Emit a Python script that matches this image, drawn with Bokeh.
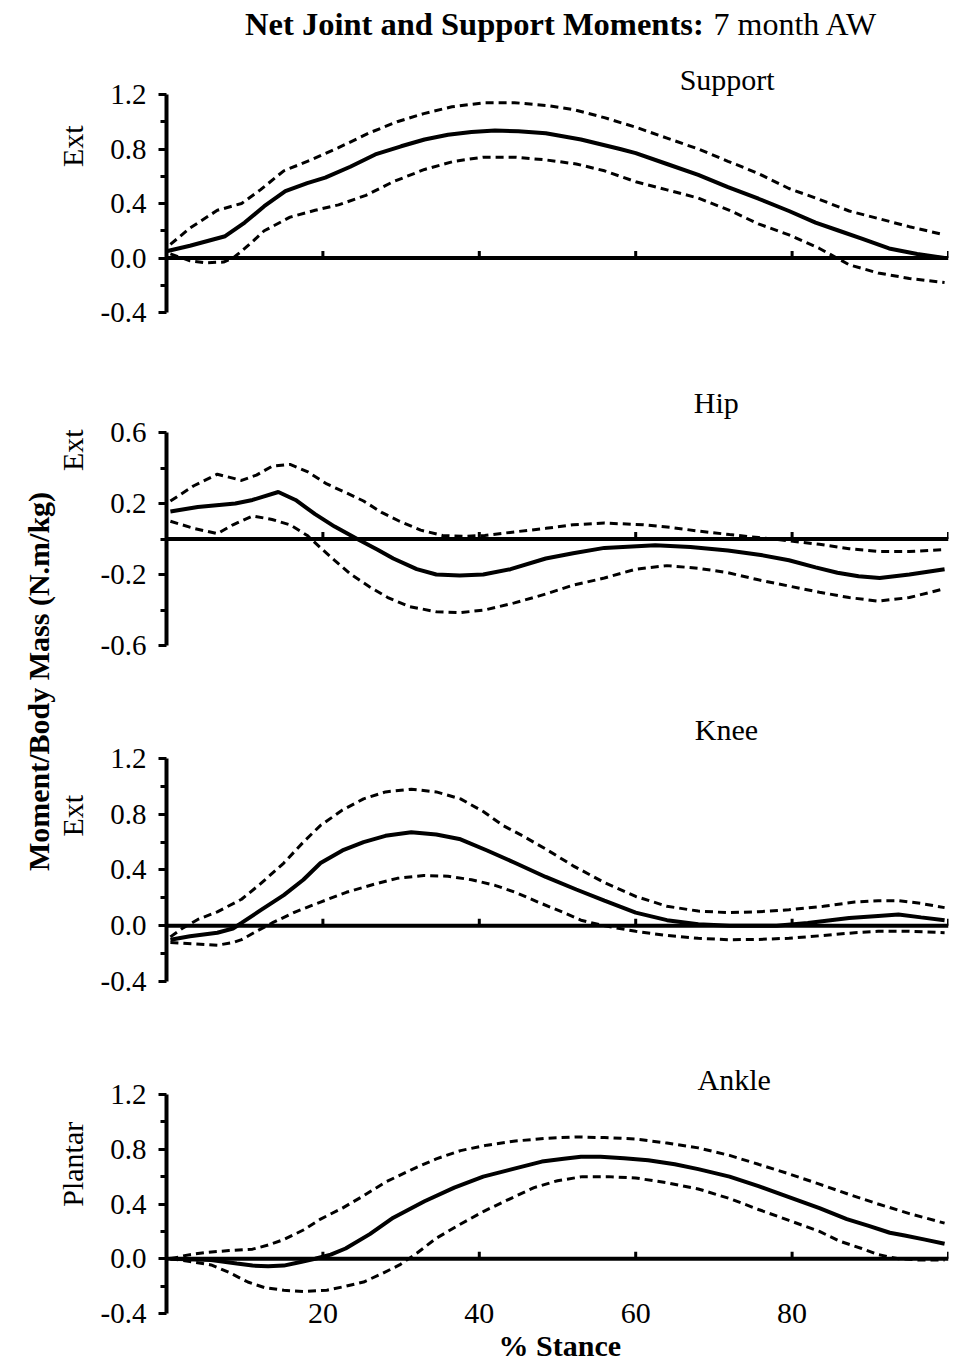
import math
from bokeh.plotting import figure
from bokeh.models import Range1d, FixedTicker, PrintfTickFormatter, Label, Span, ColumnDataSource
from bokeh.layouts import row, column
from bokeh.core.properties import value
from bokeh.embed import file_html
from bokeh.resources import INLINE

FONT = "Liberation Serif"

# ---------------- data ----------------
x_ticks = [20, 40, 60, 80]
x_tick_marks = [20, 40, 60, 80, 100]

support_mean_x = [0, 3, 7.5, 10, 12.5, 15.2, 18, 20.3, 23.5, 26.7, 30, 33, 36, 39, 42, 45, 48.5, 53, 58, 60, 64, 68, 71.8, 75.7, 79.6, 83, 86, 89, 92.4, 96, 99.5]
support_mean_y = [0.05, 0.09, 0.16, 0.26, 0.38, 0.49, 0.55, 0.59, 0.67, 0.76, 0.82, 0.87, 0.905, 0.925, 0.935, 0.93, 0.915, 0.87, 0.8, 0.77, 0.69, 0.61, 0.52, 0.435, 0.345, 0.26, 0.2, 0.14, 0.07, 0.03, 0.0]
support_upper_x = [0.5, 3, 6.5, 9.6, 12, 15, 18.5, 22, 26, 29.5, 32.9, 36.5, 40.7, 44.5, 48.5, 52, 56, 60, 64, 68, 71.8, 75.7, 79.6, 83.5, 87.3, 91, 95, 99.5]
support_upper_y = [0.1, 0.22, 0.35, 0.40, 0.5, 0.64, 0.72, 0.81, 0.92, 1.0, 1.06, 1.11, 1.14, 1.14, 1.12, 1.09, 1.03, 0.96, 0.88, 0.8, 0.71, 0.62, 0.51, 0.43, 0.345, 0.29, 0.23, 0.17]
support_lower_x = [0.5, 3, 5, 7.3, 8.5, 9.6, 11, 12.5, 15.8, 19, 22, 25.5, 29, 33, 36.8, 40.5, 44.6, 48.5, 52.4, 56, 60, 64, 68, 72, 75.7, 79.6, 83.5, 87.3, 91, 95, 99.5]
support_lower_y = [0.03, -0.02, -0.035, -0.03, 0.0, 0.05, 0.12, 0.2, 0.3, 0.35, 0.39, 0.46, 0.56, 0.65, 0.71, 0.74, 0.74, 0.72, 0.69, 0.64, 0.56, 0.5, 0.44, 0.35, 0.25, 0.17, 0.07, -0.05, -0.11, -0.15, -0.18]

hip_mean_x = [0.5, 4, 8.8, 11, 14.3, 16.5, 19, 21.5, 24.4, 27, 29, 32, 34.5, 37.5, 40.5, 44, 48.5, 52, 56, 62.5, 67, 71.8, 76, 79.6, 83, 85.8, 88.5, 91.2, 95, 99.5]
hip_mean_y = [0.155, 0.18, 0.2, 0.22, 0.265, 0.22, 0.14, 0.07, 0.0, -0.06, -0.11, -0.17, -0.2, -0.205, -0.2, -0.17, -0.11, -0.08, -0.05, -0.035, -0.045, -0.065, -0.09, -0.12, -0.16, -0.19, -0.21, -0.22, -0.2, -0.17]
hip_upper_x = [0.5, 3.5, 6.5, 9.6, 11.5, 13.5, 15.8, 18, 20.5, 23, 25.2, 27.5, 29.8, 32.5, 35.3, 38, 40.7, 44.5, 48.5, 52, 56, 61, 64.5, 68, 72, 75.7, 79.6, 83.5, 87.3, 91, 95, 99.5]
hip_upper_y = [0.214, 0.3, 0.365, 0.33, 0.36, 0.41, 0.42, 0.38, 0.31, 0.26, 0.214, 0.15, 0.1, 0.05, 0.02, 0.015, 0.02, 0.04, 0.06, 0.08, 0.09, 0.08, 0.065, 0.045, 0.025, 0.008, -0.01, -0.03, -0.055, -0.07, -0.07, -0.06]
hip_lower_x = [0.5, 3.5, 6.5, 8.5, 11, 13.5, 15.8, 18, 19.7, 21.5, 23.6, 26, 28.3, 31, 34.5, 37.5, 40.7, 44.5, 48.5, 52, 56, 60, 64, 68, 71.8, 75.7, 79.6, 83.5, 87.3, 91, 95, 99.5]
hip_lower_y = [0.1, 0.06, 0.03, 0.08, 0.13, 0.11, 0.08, 0.02, -0.05, -0.12, -0.2, -0.27, -0.33, -0.38, -0.41, -0.415, -0.4, -0.36, -0.31, -0.26, -0.22, -0.17, -0.15, -0.165, -0.19, -0.23, -0.265, -0.3, -0.33, -0.35, -0.33, -0.28]

knee_mean_x = [0.5, 3, 6.5, 8.5, 9.6, 12, 15, 17.5, 19.7, 22.5, 25.2, 28, 31.3, 34.5, 37.6, 41, 44.6, 48.5, 52.4, 56, 60, 64, 68, 72, 78, 82, 87.3, 91, 93.6, 96.5, 99.5]
knee_mean_y = [-0.1, -0.075, -0.05, -0.02, 0.02, 0.11, 0.22, 0.33, 0.45, 0.54, 0.6, 0.645, 0.67, 0.655, 0.62, 0.54, 0.45, 0.35, 0.26, 0.18, 0.094, 0.04, 0.01, 0.0, 0.0, 0.02, 0.055, 0.07, 0.08, 0.06, 0.04]
knee_upper_x = [0.5, 2, 4, 6.5, 9.6, 12, 15, 17.5, 19.7, 22.5, 25.2, 28, 31.3, 34.5, 37.6, 40.5, 43, 45.7, 48.5, 52, 56, 60, 64, 68, 71.8, 75.7, 79.6, 84, 88, 91, 93.6, 96.5, 99.5]
knee_upper_y = [-0.08, -0.02, 0.045, 0.1, 0.19, 0.3, 0.45, 0.6, 0.72, 0.83, 0.91, 0.96, 0.98, 0.96, 0.91, 0.82, 0.72, 0.64, 0.55, 0.43, 0.31, 0.21, 0.14, 0.105, 0.094, 0.1, 0.115, 0.14, 0.17, 0.18, 0.18, 0.16, 0.13]
knee_lower_x = [0.5, 3.5, 6.5, 8.5, 9.6, 11.5, 13.5, 16.5, 19.7, 23, 26.7, 29.5, 32.9, 36, 39, 42, 44.6, 47.5, 50.8, 53, 56, 60, 64, 68, 71.8, 75.7, 79.6, 84, 88, 91, 95, 99.5]
knee_lower_y = [-0.12, -0.13, -0.14, -0.12, -0.1, -0.04, 0.02, 0.1, 0.17, 0.24, 0.3, 0.34, 0.36, 0.355, 0.33, 0.29, 0.24, 0.17, 0.094, 0.04, 0.0, -0.04, -0.07, -0.09, -0.1, -0.098, -0.09, -0.07, -0.05, -0.04, -0.04, -0.05]

ankle_mean_x = [0.5, 5.7, 9, 11, 13, 15, 17, 19, 21, 22.9, 26, 29, 33, 36.8, 40.5, 44.6, 48, 50.8, 53, 55.5, 58.5, 61.6, 65, 68, 72, 75.7, 79.6, 83.5, 87, 89.8, 92.5, 94.4, 97, 99.5]
ankle_mean_y = [0.0, -0.01, -0.035, -0.05, -0.055, -0.05, -0.025, 0.0, 0.03, 0.075, 0.18, 0.3, 0.42, 0.52, 0.6, 0.66, 0.71, 0.73, 0.745, 0.745, 0.735, 0.72, 0.69, 0.655, 0.6, 0.53, 0.45, 0.37, 0.29, 0.24, 0.19, 0.17, 0.14, 0.11]
ankle_upper_x = [0.5, 3, 5, 8, 11, 13, 15, 17.5, 19.7, 22.5, 25.2, 28, 31.3, 34.5, 37.6, 41, 44.6, 48.5, 52.4, 56, 60, 64, 68, 72, 75.7, 79.6, 83.5, 87.3, 91, 95, 99.5]
ankle_upper_y = [0.0, 0.03, 0.045, 0.06, 0.07, 0.1, 0.14, 0.21, 0.29, 0.37, 0.46, 0.56, 0.65, 0.73, 0.79, 0.83, 0.86, 0.88, 0.89, 0.885, 0.875, 0.845, 0.81, 0.755, 0.69, 0.62, 0.545, 0.47, 0.4, 0.33, 0.26]
ankle_lower_x = [0.5, 3, 5.7, 8, 10.4, 12.5, 15, 17.5, 20.5, 23, 25.2, 27.5, 29.8, 32, 34.5, 37.5, 40.7, 44, 47, 50, 53.2, 56.5, 60, 64, 68, 72, 75.7, 79.6, 83.5, 86, 88.9, 91, 93.6, 96.5, 99.5]
ankle_lower_y = [0.0, -0.02, -0.045, -0.1, -0.17, -0.21, -0.23, -0.24, -0.23, -0.2, -0.17, -0.11, -0.045, 0.04, 0.15, 0.25, 0.35, 0.44, 0.52, 0.57, 0.6, 0.6, 0.59, 0.555, 0.51, 0.44, 0.36, 0.28, 0.2, 0.13, 0.075, 0.03, 0.0, -0.01, -0.01]

panel_names = ["Support", "Hip", "Knee", "Ankle"]
side_labels = ["Ext", "Ext", "Ext", "Plantar"]
title_bold = "Net Joint and Support Moments:"
title_normal = "7 month AW"
y_label = "Moment/Body Mass (N.m/kg)"
x_label = "% Stance"

# ---------------- layout ----------------
MAIN_W = 857
SIDE_W = 40
GLOBAL_W = 56
TICK_PX = 7


def make_panel(height, top, bottom, yr, bounds, majors, minors):
    p = figure(width=MAIN_W, height=height, x_range=Range1d(0, 100), y_range=Range1d(*yr),
               output_backend="svg", toolbar_location=None, x_axis_location=None,
               min_border_left=70, min_border_right=5, min_border_top=top, min_border_bottom=bottom)
    p.outline_line_color = None
    p.xgrid.visible = False
    p.ygrid.visible = False
    p.background_fill_color = "white"
    p.border_fill_color = "white"
    ax = p.yaxis[0]
    ax.bounds = bounds
    ax.ticker = FixedTicker(ticks=majors, minor_ticks=minors)
    ax.formatter = PrintfTickFormatter(format="%.1f")
    ax.axis_line_width = 4
    ax.axis_line_color = "black"
    ax.major_tick_line_width = 3
    ax.minor_tick_line_width = 3
    ax.major_tick_out = 8
    ax.major_tick_in = 0
    ax.minor_tick_out = 6
    ax.minor_tick_in = 0
    ax.major_label_standoff = 12
    ax.major_label_text_font = FONT
    ax.major_label_text_font_size = "29px"
    ax.major_label_text_color = "black"
    # zero line with upward x ticks
    p.add_layout(Span(location=0, dimension="width", line_color="black", line_width=4))
    frame_h = height - top - bottom
    tick_len = TICK_PX * (yr[1] - yr[0]) / frame_h
    p.segment(x0=x_tick_marks, y0=[0] * len(x_tick_marks), x1=x_tick_marks,
              y1=[tick_len] * len(x_tick_marks), line_color="black", line_width=3)
    # strip on the left for the side label, sharing the y range
    s = figure(width=SIDE_W, height=height, x_range=Range1d(0, 1), y_range=p.y_range,
               output_backend="svg", toolbar_location=None, x_axis_location=None,
               y_axis_location=None, min_border_left=0, min_border_right=0,
               min_border_top=top, min_border_bottom=bottom)
    s.outline_line_color = None
    s.xgrid.visible = False
    s.ygrid.visible = False
    return p, s


def add_curves(p, mx, my, ux, uy, lx, ly):
    p.line(ux, uy, line_color="black", line_width=3, line_dash="8 5")
    p.line(lx, ly, line_color="black", line_width=3, line_dash="8 5")
    p.line(mx, my, line_color="black", line_width=4)


def add_labels(p, s, name, name_x, name_y, side, side_y):
    p.add_layout(Label(x=name_x, y=name_y, text=name, text_font=FONT, text_font_size="30px",
                       text_align="center", text_baseline="middle", text_color="black"))
    s.add_layout(Label(x=0.4, y=side_y, text=side, angle=math.pi / 2,
                       text_font=FONT, text_font_size="30px", text_align="center",
                       text_baseline="middle", text_color="black"))


STD_MAJ = [-0.4, 0.0, 0.4, 0.8, 1.2]
STD_MIN = [-0.2, 0.2, 0.6, 1.0]

# Support
p1, s1 = make_panel(340, 0, 28, (-0.4, 1.89), (-0.4, 1.2), STD_MAJ, STD_MIN)
add_curves(p1, support_mean_x, support_mean_y, support_upper_x, support_upper_y, support_lower_x, support_lower_y)
add_labels(p1, s1, panel_names[0], 71.7, 1.31, side_labels[0], 0.82)
p1.add_layout(Label(x=68.7, y=1.717, text=title_bold, text_font=FONT, text_font_style="bold",
                    text_font_size="32.5px", text_align="right", text_baseline="middle", text_color="black"))
p1.add_layout(Label(x=69.95, y=1.717, text=title_normal, text_font=FONT,
                    text_font_size="32px", text_align="left", text_baseline="middle", text_color="black"))

# Hip
p2, s2 = make_panel(360, 40, 55, (-0.6, 0.893), (-0.6, 0.6), [-0.6, -0.2, 0.2, 0.6], [-0.4, 0.0, 0.4])
add_curves(p2, hip_mean_x, hip_mean_y, hip_upper_x, hip_upper_y, hip_lower_x, hip_lower_y)
add_labels(p2, s2, panel_names[1], 70.3, 0.77, side_labels[1], 0.5)

# Knee
p3, s3 = make_panel(340, 5, 59, (-0.4, 1.58), (-0.4, 1.2), STD_MAJ, STD_MIN)
add_curves(p3, knee_mean_x, knee_mean_y, knee_upper_x, knee_upper_y, knee_lower_x, knee_lower_y)
add_labels(p3, s3, panel_names[2], 71.6, 1.41, side_labels[2], 0.79)

# Ankle
p4, s4 = make_panel(322, 5, 0, (-0.758, 1.558), (-0.4, 1.2), STD_MAJ, STD_MIN)
add_curves(p4, ankle_mean_x, ankle_mean_y, ankle_upper_x, ankle_upper_y, ankle_lower_x, ankle_lower_y)
add_labels(p4, s4, panel_names[3], 72.6, 1.31, side_labels[3], 0.69)
tick_src = ColumnDataSource(dict(x=x_ticks, y=[-0.4] * len(x_ticks), t=[str(v) for v in x_ticks]))
p4.text(x="x", y="y", text="t", source=tick_src, text_font=value(FONT), text_font_size=value("30px"),
        text_align="center", text_baseline="alphabetic", text_color="black")
p4.add_layout(Label(x=50.3, y=-0.635, text=x_label, text_font=FONT, text_font_style="bold",
                    text_font_size="30px", text_align="center", text_baseline="middle", text_color="black"))

# global strip with the shared y label
TOTAL_H = 340 + 360 + 340 + 322
left = figure(width=GLOBAL_W, height=TOTAL_H, x_range=Range1d(0, 1), y_range=Range1d(0, 1),
              output_backend="svg", toolbar_location=None, x_axis_location=None,
              y_axis_location=None, min_border=0)
left.outline_line_color = None
left.xgrid.visible = False
left.ygrid.visible = False
left.add_layout(Label(x=0.68, y=0.5, text=y_label, angle=math.pi / 2,
                      text_font=FONT, text_font_style="bold", text_font_size="30px",
                      text_align="center", text_baseline="middle", text_color="black"))

layout = row(left, column(row(s1, p1), row(s2, p2), row(s3, p3), row(s4, p4)))
open("out.html", "w").write(file_html(layout, INLINE))
